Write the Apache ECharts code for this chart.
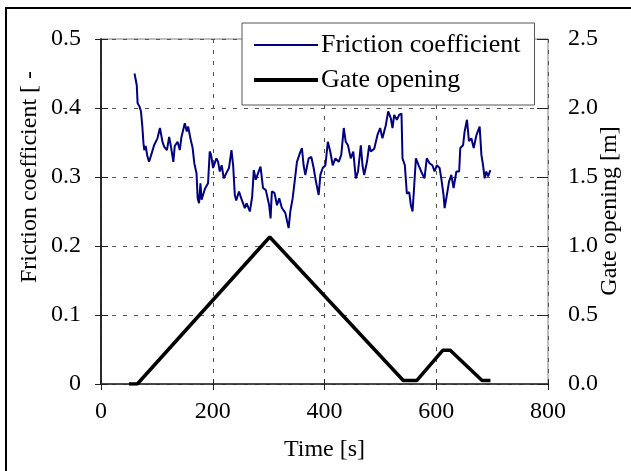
<!DOCTYPE html>
<html>
<head>
<meta charset="utf-8">
<script src="https://cdn.jsdelivr.net/npm/echarts@6/dist/echarts.min.js"></script>
<style>
html, body { margin: 0; padding: 0; background: #fff; }
#box1 { width: 631px; height: 471px; }
</style>
</head>
<body>
<div id="box1"></div>
<script>
var dom = document.getElementById("box1");
var myChart = echarts.init(dom);

var seriesNames = ["Friction coefficient", "Gate opening"];
var xTicks = [0, 200, 400, 600, 800];

// friction coefficient [-]
var frictionTime = [60, 64, 65.5, 69, 71.5, 74, 76, 77.5, 80, 83, 86, 89.5, 95, 101, 105.5, 110, 113, 118, 122, 125,
    129.5, 132, 137, 141, 144, 150, 153.5, 156, 160, 164, 167, 171, 173, 175.5, 178, 180, 182.6, 186, 191.6, 194.6,
    197, 200.6, 203.5, 206.6, 209.6, 212.6, 216, 219.7, 224.5, 229, 233.5, 236.5, 239.5, 242, 247, 251, 257.4, 260.5, 266.4, 270.5,
    273.5, 277, 280, 285.5, 290, 295, 301, 303.5, 305.8, 310.5, 315, 319, 323.8, 329.8, 335.8, 338.8, 343, 346.5, 350.7, 356.6,
    359.6, 362.6, 365.6, 371.6, 376.4, 380.6, 384.8, 389.6, 392.6, 396.8, 401.6, 406, 410.3, 414.7, 419.5, 425.4, 430, 434.5, 438, 442,
    447, 451.5, 456, 460, 465, 468, 471, 476, 480, 483, 489, 494.8, 499.6, 503.7, 509.7, 514, 518.7, 521.7, 524.7, 529.5,
    533.6, 537.8, 539.6, 543.8, 547.4, 551.6, 554.6, 557.6, 560.6, 563.6, 568.5, 573, 579, 583, 588, 593, 597, 601, 606, 609,
    613, 615, 619, 622.8, 627, 631, 636, 641, 643, 648, 650.8, 655, 658.5, 662.8, 667, 672, 677.7, 680.8, 683.8, 686.6,
    689.6, 692.8, 696.8];
var frictionValue = [0.450, 0.433, 0.407, 0.402, 0.395, 0.373, 0.349, 0.339, 0.345, 0.330, 0.322, 0.331, 0.346, 0.356, 0.371, 0.351, 0.344, 0.339, 0.358, 0.345,
    0.322, 0.345, 0.351, 0.339, 0.358, 0.378, 0.366, 0.373, 0.356, 0.342, 0.320, 0.305, 0.269, 0.262, 0.291, 0.267, 0.274, 0.283, 0.291, 0.337,
    0.332, 0.313, 0.320, 0.327, 0.322, 0.308, 0.317, 0.298, 0.306, 0.313, 0.339, 0.317, 0.274, 0.266, 0.279, 0.269, 0.255, 0.262, 0.250, 0.271,
    0.310, 0.296, 0.303, 0.315, 0.284, 0.281, 0.259, 0.240, 0.279, 0.277, 0.259, 0.269, 0.255, 0.248, 0.226, 0.250, 0.269, 0.293, 0.322, 0.336,
    0.342, 0.317, 0.303, 0.327, 0.329, 0.313, 0.293, 0.274, 0.303, 0.313, 0.317, 0.351, 0.337, 0.317, 0.327, 0.322, 0.332, 0.371, 0.351, 0.346,
    0.327, 0.337, 0.298, 0.308, 0.346, 0.317, 0.303, 0.322, 0.346, 0.337, 0.341, 0.361, 0.371, 0.356, 0.375, 0.395, 0.385, 0.371, 0.390, 0.383,
    0.390, 0.392, 0.327, 0.317, 0.276, 0.278, 0.259, 0.250, 0.288, 0.327, 0.317, 0.308, 0.298, 0.327, 0.320, 0.317, 0.308, 0.317, 0.313, 0.298,
    0.274, 0.255, 0.274, 0.293, 0.303, 0.284, 0.308, 0.308, 0.342, 0.346, 0.366, 0.383, 0.352, 0.356, 0.342, 0.361, 0.373, 0.332, 0.317, 0.298,
    0.308, 0.301, 0.310];

// gate opening [m]
var gateTime = [50, 65, 302, 541, 565, 612, 625, 682, 697];
var gateValue = [0, 0, 1.065, 0.025, 0.025, 0.245, 0.245, 0.025, 0.025];

function pairs(xs, ys) {
    var res = [];
    for (var i = 0; i < xs.length; i++) {
        res.push([xs[i], ys[i]]);
    }
    return res;
}

var serif = '"Liberation Serif", "Times New Roman", serif';
var dashGrid = { show: true, lineStyle: { color: "#555", width: 1, type: [4, 7] } };

option = {
    backgroundColor: "#fff",
    animation: false,
    textStyle: { fontFamily: serif },
    grid: {
        left: 101,
        right: 83,
        top: 39,
        bottom: 87,
        outerBoundsMode: "none",
        containLabel: false,
        show: true,
        borderColor: "#808080",
        borderWidth: 1,
        backgroundColor: "transparent"
    },
    legend: {
        orient: "vertical",
        left: 242,
        top: 23,
        padding: [9, 14, 12, 10],
        backgroundColor: "#fff",
        borderColor: "#555",
        borderWidth: 1,
        itemWidth: 64,
        itemHeight: 22,
        itemGap: 9,
        itemStyle: { opacity: 0 },
        data: [
            { name: seriesNames[0], lineStyle: { width: 2 } },
            { name: seriesNames[1], lineStyle: { width: 4 } }
        ],
        textStyle: { fontFamily: serif, fontSize: 26, color: "#000", lineHeight: 22, padding: [0, 0, 0, -2] }
    },
    xAxis: [{
        type: "value",
        min: 0,
        max: 800,
        interval: 200,
        name: "Time [s]",
        nameLocation: "middle",
        nameGap: 54,
        nameTextStyle: { fontFamily: serif, fontSize: 24, color: "#000" },
        axisLine: { show: true, lineStyle: { color: "#222", width: 1.5 } },
        axisTick: { show: true, inside: false, length: 6, lineStyle: { color: "#222", width: 1 } },
        axisLabel: { margin: 16, fontFamily: serif, fontSize: 24, color: "#000" },
        splitLine: dashGrid
    }, {
        type: "value",
        position: "bottom",
        min: 0,
        max: 800,
        interval: 200,
        axisLine: { show: false },
        axisTick: { show: true, inside: true, length: 5, lineStyle: { color: "#222", width: 1 } },
        axisLabel: { show: false },
        splitLine: { show: false }
    }],
    yAxis: [{
        type: "value",
        position: "left",
        min: 0,
        max: 0.5,
        interval: 0.1,
        axisLine: { show: true, lineStyle: { color: "#222", width: 1.5 } },
        axisTick: { show: true, inside: false, length: 6, lineStyle: { color: "#222", width: 1 } },
        axisLabel: {
            margin: 20, fontFamily: serif, fontSize: 24, color: "#000",
            formatter: function (v) { return v === 0 ? "0" : v.toFixed(1); }
        },
        splitLine: dashGrid
    }, {
        type: "value",
        position: "right",
        min: 0,
        max: 2.5,
        interval: 0.5,
        axisLine: { show: true, lineStyle: { color: "#222", width: 1.5 } },
        axisTick: { show: true, inside: false, length: 7, lineStyle: { color: "#222", width: 1 } },
        axisLabel: {
            margin: 20, fontFamily: serif, fontSize: 24, color: "#000",
            formatter: function (v) { return v.toFixed(1); }
        },
        splitLine: { show: false }
    }, {
        type: "value",
        position: "left",
        min: 0,
        max: 0.5,
        interval: 0.1,
        axisLine: { show: false },
        axisTick: { show: true, inside: true, length: 5, lineStyle: { color: "#222", width: 1 } },
        axisLabel: { show: false },
        splitLine: { show: false }
    }, {
        type: "value",
        position: "right",
        min: 0,
        max: 2.5,
        interval: 0.5,
        axisLine: { show: false },
        axisTick: { show: true, inside: true, length: 11, lineStyle: { color: "#222", width: 1 } },
        axisLabel: { show: false },
        splitLine: { show: false }
    }],
    graphic: [{
        type: "rect",
        shape: { x: 6, y: 8, width: 700, height: 600 },
        style: { fill: "none", stroke: "#000", lineWidth: 2 },
        silent: true
    }, {
        type: "text",
        x: 30,
        y: 177,
        rotation: Math.PI / 2,
        style: {
            text: "Friction coefficient [ -",
            font: '24px "Liberation Serif"',
            fill: "#000",
            align: "center",
            verticalAlign: "middle"
        },
        silent: true
    }, {
        type: "text",
        x: 610,
        y: 211,
        rotation: Math.PI / 2,
        style: {
            text: "Gate opening [m]",
            font: '24px "Liberation Serif"',
            fill: "#000",
            align: "center",
            verticalAlign: "middle"
        },
        silent: true
    }],
    series: [{
        name: seriesNames[0],
        type: "line",
        yAxisIndex: 0,
        symbol: "none",
        z: 3,
        lineStyle: { color: "#000080", width: 2 },
        itemStyle: { color: "#000080" },
        data: pairs(frictionTime, frictionValue)
    }, {
        name: seriesNames[1],
        type: "line",
        yAxisIndex: 1,
        symbol: "none",
        z: 2,
        lineStyle: { color: "#000", width: 3.5 },
        itemStyle: { color: "#000" },
        data: pairs(gateTime, gateValue)
    }]
};
if (option && typeof option === "object") {
    myChart.setOption(option, true);
}
</script>
</body>
</html>
